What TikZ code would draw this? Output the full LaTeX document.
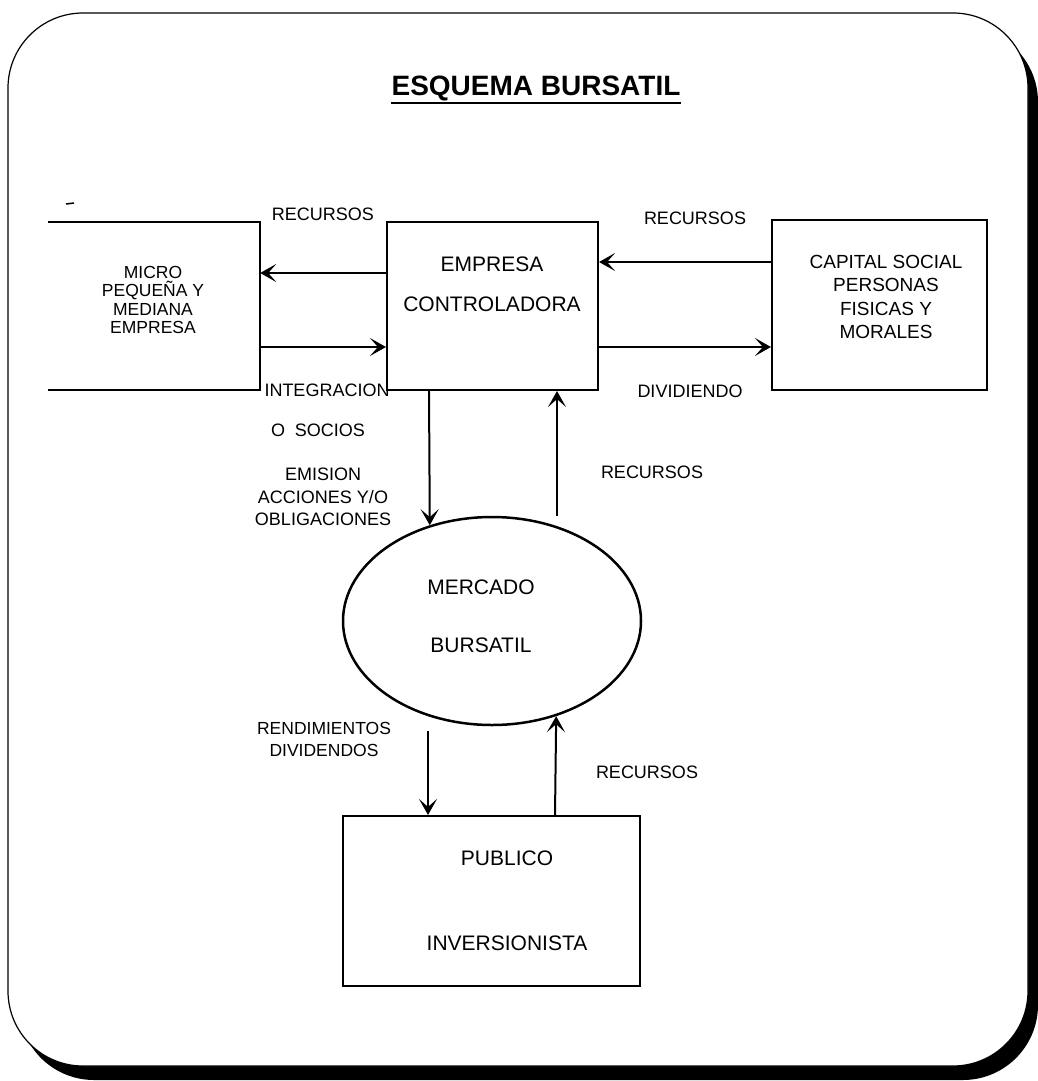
\documentclass[tikz,border=0pt]{standalone}
\usepackage{fontspec}
\setmainfont{Liberation Sans}
\usetikzlibrary{shapes.geometric,arrows.meta}
\begin{document}
\begin{tikzpicture}[x=1pt,y=-1pt,
  boxline/.style={line width=2.1pt},
  rect/.style={boxline,draw,rectangle,inner sep=0pt},
  lbl/.style={inner sep=0pt,align=center,font=\fontsize{18}{22.5}\selectfont},
  txt/.style={inner sep=0pt,align=center,font=\fontsize{21}{25}\selectfont},
  arr/.style={line width=2pt,-{Stealth[length=16pt,width=18pt,inset=8pt]}}]
\useasboundingbox (0,0) rectangle (1038,1081);
% frame with shadow
\fill[black,rounded corners=75pt] (19,27) rectangle (1038,1080);
\filldraw[fill=white,draw=black,line width=1.2pt,rounded corners=75pt] (8,13) rectangle (1028,1066);
% title
\node[inner sep=0pt,font=\fontsize{28}{32}\selectfont\bfseries] (title) at (536,88) {ESQUEMA BURSATIL};
\draw[line width=1.8pt] ([yshift=-2.5pt]title.south west) -- ([yshift=-2.5pt]title.south east);
% boxes
\node[inner sep=0pt,minimum width=212pt,minimum height=168pt] (micro) at (154,306) {};
\draw[boxline] (micro.north west) -- (micro.north east) -- (micro.south east) -- (micro.south west);
\node[txt,font=\fontsize{17.5}{18.5}\selectfont] (microT) at (153,300) {MICRO\\PEQUEÑA Y\\MEDIANA\\EMPRESA};
\node[rect,minimum width=211pt,minimum height=168pt] (emp) at (492.5,306) {};
\node[txt] (empT) at (492,284.5) {EMPRESA\\[15.5pt]CONTROLADORA};
\node[rect,minimum width=215pt,minimum height=170pt] (cap) at (879.5,305) {};
\node[txt,font=\fontsize{19}{23.3}\selectfont] (capT) at (886,297) {CAPITAL SOCIAL\\PERSONAS\\FISICAS Y\\MORALES};
\node[ellipse,draw,line width=2.5pt,inner sep=0pt,minimum width=298pt,minimum height=208pt] (merc) at (492,621) {};
\node[txt] (mercT) at (481,616) {MERCADO\\[33pt]BURSATIL};
\node[rect,minimum width=297pt,minimum height=170pt] (pub) at (491.5,901) {};
\node[txt] (pubT) at (507,900.5) {PUBLICO\\[60pt]INVERSIONISTA};
% labels
\node[lbl] (l1) at (323,214) {RECURSOS};
\node[lbl] (l2) at (695,218) {RECURSOS};
\node[lbl] (l3) at (327,390) {INTEGRACION};
\node[lbl] (l4) at (318,430) {O\hspace{0.55em}SOCIOS};
\node[lbl] (l5) at (690,391) {DIVIDIENDO};
\node[lbl] (l6) at (323,497) {EMISION\\ACCIONES Y/O\\OBLIGACIONES};
\node[lbl] (l7) at (652,472) {RECURSOS};
\node[lbl,font=\fontsize{17.5}{22}\selectfont] (l8) at (324,739) {RENDIMIENTOS\\DIVIDENDOS};
\node[lbl] (l9) at (647,772) {RECURSOS};
% connectors
\draw[arr] (emp.west |- 0,273) -- (micro.east |- 0,273);
\draw[arr] (micro.east |- 0,347) -- (emp.west |- 0,347);
\draw[arr] (cap.west |- 0,262) -- (emp.east |- 0,262);
\draw[arr] (emp.east |- 0,347) -- (cap.west |- 0,347);
\draw[arr] (emp.south -| 429,0) -- (merc.123.6);
\draw[arr] (merc.north -| 557,0) -- (emp.south -| 557,0);
\draw[arr] ([yshift=-5pt]merc.south -| 428,0) -- (pub.north -| 428,0);
\draw[arr] (pub.north -| 555,0) -- (merc.-56.2);
% scan mark
\draw[line width=1.5pt] (66,204) -- (74,203);
\end{tikzpicture}
\end{document}
